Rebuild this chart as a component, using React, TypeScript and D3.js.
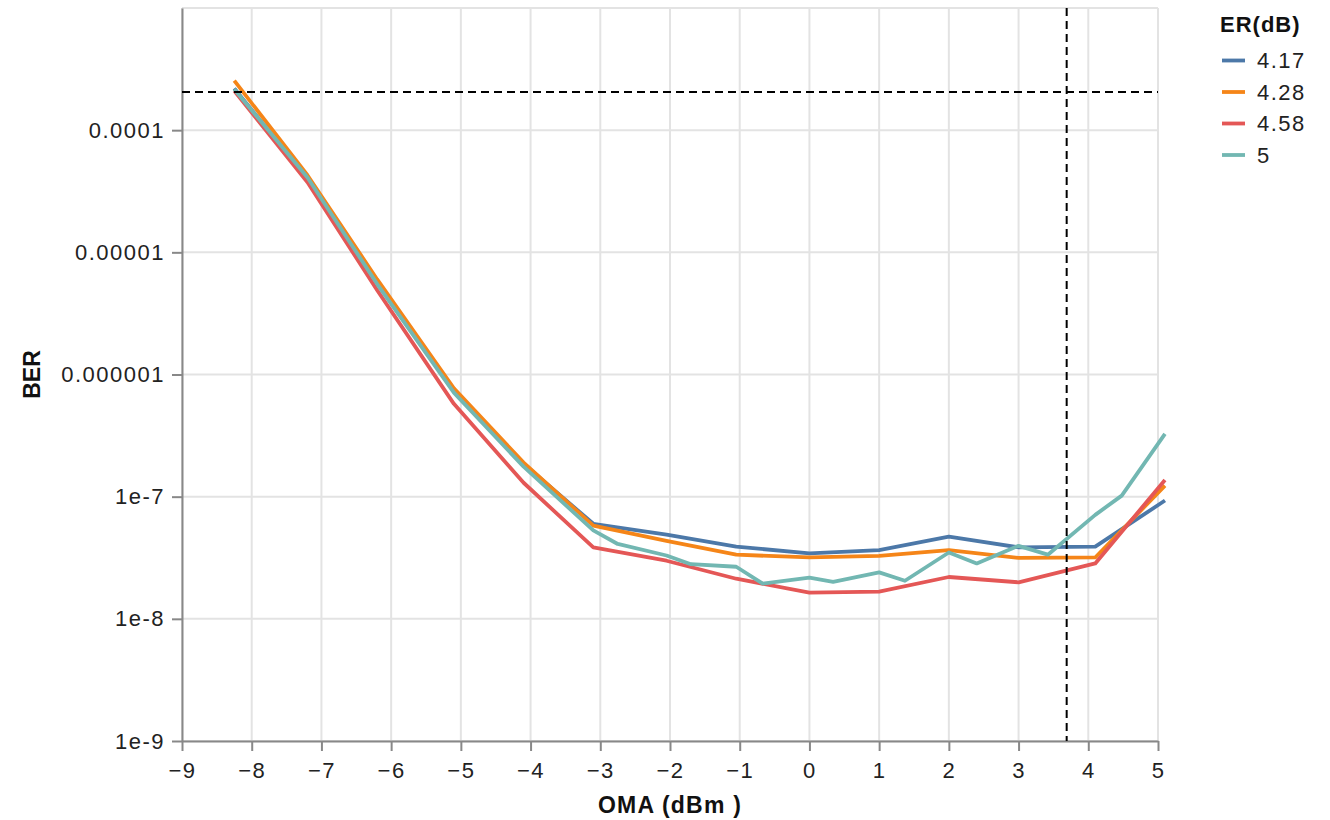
import React, { useEffect, useMemo, useRef } from 'react';
import * as d3 from 'd3';

// OMA (dBm) sample points for the 4.17 / 4.28 / 4.58 dB runs
const omaMain = [-8.25, -7.2, -6.2, -5.1, -4.1, -3.1, -2.05, -1.05, 0, 1, 2, 3, 4.1, 5.1];
const ber417 = [2.2e-4, 4.0e-5, 5.6e-6, 7.3e-7, 1.85e-7, 6.0e-8, 4.9e-8, 3.9e-8, 3.43e-8, 3.65e-8, 4.7e-8, 3.85e-8, 3.9e-8, 9.3e-8];
const ber428 = [2.54e-4, 4.28e-5, 6.0e-6, 7.7e-7, 1.9e-7, 5.8e-8, 4.35e-8, 3.35e-8, 3.18e-8, 3.28e-8, 3.65e-8, 3.15e-8, 3.18e-8, 1.23e-7];
const ber458 = [2.1e-4, 3.75e-5, 4.9e-6, 5.75e-7, 1.3e-7, 3.84e-8, 2.99e-8, 2.13e-8, 1.64e-8, 1.67e-8, 2.2e-8, 1.99e-8, 2.84e-8, 1.37e-7];

// the 5 dB run was sampled more finely
const oma5 = [-8.25, -7.2, -6.2, -5.1, -4.1, -3.1, -2.75, -2.05, -1.7, -1.05, -0.67, 0, 0.34, 1, 1.37, 2, 2.4, 3, 3.42, 4.1, 4.48, 5.1];
const ber5 = [2.16e-4, 4.1e-5, 5.5e-6, 7.1e-7, 1.76e-7, 5.3e-8, 4.1e-8, 3.3e-8, 2.8e-8, 2.67e-8, 1.94e-8, 2.17e-8, 2.01e-8, 2.4e-8, 2.05e-8, 3.49e-8, 2.84e-8, 3.96e-8, 3.35e-8, 7.1e-8, 1.02e-7, 3.27e-7];

const erLabels = ['4.17', '4.28', '4.58', '5'];
const erColors = ['#4c78a8', '#f58518', '#e45756', '#72b7b2'];

const xTickValues = d3.range(-9, 6);
const yTickValues = [1e-9, 1e-8, 1e-7, 1e-6, 1e-5, 1e-4];
const yTickLabels = ['1e-9', '1e-8', '1e-7', '0.000001', '0.00001', '0.0001'];

const berLimit = 2.05e-4;
const omaLimit = 3.69;

const FONT = '"Liberation Sans", Arial, sans-serif';

const App = () => {
  const margin = { top: 8, left: 182 };
  const width = 976;
  const height = 733;

  const svgRef = useRef(null);

  const { x, y } = useMemo(() => {
    const xScale = d3.scaleLinear().domain([-9, 5]).range([0, width]);
    const yScale = d3.scaleLog().domain([1e-9, 1e-3]).range([height, 0]);
    return { x: xScale, y: yScale };
  }, [width, height]);

  useEffect(() => {
    const svg = d3.select(svgRef.current);
    svg.selectAll('*').remove();

    const g = svg.append('g').attr('transform', `translate(${margin.left},${margin.top})`);

    // grid
    g.append('g')
      .selectAll('line')
      .data(xTickValues)
      .join('line')
      .attr('x1', (d) => x(d))
      .attr('x2', (d) => x(d))
      .attr('y1', 0)
      .attr('y2', height)
      .attr('stroke', '#e3e3e3')
      .attr('stroke-width', 2);

    g.append('g')
      .selectAll('line')
      .data([...yTickValues, 1e-3])
      .join('line')
      .attr('x1', 0)
      .attr('x2', width)
      .attr('y1', (d) => y(d))
      .attr('y2', (d) => y(d))
      .attr('stroke', '#e3e3e3')
      .attr('stroke-width', 2);

    // axes
    const xAxis = g.append('g')
      .attr('transform', `translate(0,${height})`)
      .call(d3.axisBottom(x).tickValues(xTickValues).tickSize(10).tickSizeOuter(0).tickPadding(11));

    const yAxis = g.append('g')
      .call(
        d3.axisLeft(y)
          .tickValues(yTickValues)
          .tickFormat((d, i) => yTickLabels[i])
          .tickSize(10)
          .tickSizeOuter(0)
          .tickPadding(7)
      );

    [xAxis, yAxis].forEach((a) => {
      a.attr('font-family', FONT).attr('font-size', 22);
      a.select('.domain').attr('stroke', '#888').attr('stroke-width', 2);
      a.selectAll('.tick line').attr('stroke', '#888').attr('stroke-width', 2);
      a.selectAll('.tick text').attr('fill', '#222').attr('letter-spacing', 1.5);
    });

    // series
    const line = d3.line().x((d) => x(d[0])).y((d) => y(d[1]));
    const series = [
      d3.zip(omaMain, ber417),
      d3.zip(omaMain, ber428),
      d3.zip(omaMain, ber458),
      d3.zip(oma5, ber5),
    ];
    g.append('g')
      .selectAll('path')
      .data(series)
      .join('path')
      .attr('d', (d) => line(d))
      .attr('fill', 'none')
      .attr('stroke', (d, i) => erColors[i])
      .attr('stroke-width', 3.8)
      .attr('stroke-linejoin', 'round');

    // thresholds
    g.append('line')
      .attr('x1', 0)
      .attr('x2', width)
      .attr('y1', y(berLimit))
      .attr('y2', y(berLimit))
      .attr('stroke', '#000')
      .attr('stroke-width', 2)
      .attr('stroke-dasharray', '8,5');

    g.append('line')
      .attr('x1', x(omaLimit))
      .attr('x2', x(omaLimit))
      .attr('y1', 0)
      .attr('y2', height)
      .attr('stroke', '#000')
      .attr('stroke-width', 2)
      .attr('stroke-dasharray', '8,5');

    // axis titles
    g.append('text')
      .attr('x', width / 2)
      .attr('y', height + 72)
      .attr('text-anchor', 'middle')
      .attr('font-family', FONT)
      .attr('font-size', 23)
      .attr('font-weight', 'bold')
      .attr('letter-spacing', 1.2)
      .attr('fill', '#111')
      .text('OMA (dBm )');

    g.append('text')
      .attr('transform', `translate(${40 - margin.left},${height / 2}) rotate(-90)`)
      .attr('text-anchor', 'middle')
      .attr('font-family', FONT)
      .attr('font-size', 23)
      .attr('font-weight', 'bold')
      .attr('fill', '#111')
      .text('BER');

    // legend
    const legend = svg.append('g').attr('transform', 'translate(1220,0)');
    legend.append('text')
      .attr('x', 0)
      .attr('y', 32)
      .attr('font-family', FONT)
      .attr('font-size', 22)
      .attr('font-weight', 'bold')
      .attr('letter-spacing', 1)
      .attr('fill', '#111')
      .text('ER(dB)');

    const items = legend.selectAll('g.item')
      .data(erLabels)
      .join('g')
      .attr('class', 'item')
      .attr('transform', (d, i) => `translate(0,${60.5 + i * 31.5})`);
    items.append('line')
      .attr('x1', 2)
      .attr('x2', 25)
      .attr('stroke', (d, i) => erColors[i])
      .attr('stroke-width', 3.8);
    items.append('text')
      .attr('x', 37)
      .attr('dy', '0.35em')
      .attr('font-family', FONT)
      .attr('font-size', 22)
      .attr('letter-spacing', 1.5)
      .attr('fill', '#222')
      .text((d) => d);
  }, [x, y]);

  return (
    <svg
      ref={svgRef}
      width={1330}
      height={820}
      style={{ position: 'absolute', left: 0, top: 0, background: '#fff' }}
    />
  );
};

export default App;
